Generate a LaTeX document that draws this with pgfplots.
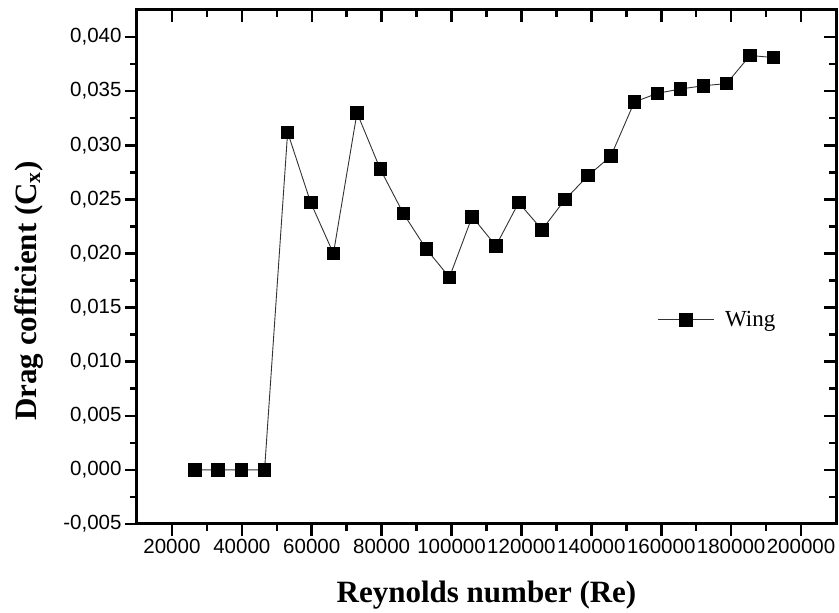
\documentclass[border=0pt]{standalone}
\usepackage{pgfplots}
\pgfplotsset{compat=1.18}
\usepackage{fontspec}
\setmainfont{Liberation Serif}
\newfontfamily\arial{Liberation Sans}

\begin{document}
\begin{tikzpicture}
\useasboundingbox (-137pt,-89pt) rectangle (702pt,524pt);
\pgfplotsset{
  dragaxis/.style={
    scale only axis, width=699pt, height=514pt,
    xmin=10000, xmax=210000, ymin=-0.005, ymax=0.0425,
    xtick={20000,40000,...,200000}, minor x tick num=1,
    ytick={-0.005,0,0.005,0.01,0.015,0.02,0.025,0.03,0.035,0.04}, minor y tick num=1,
    scaled x ticks=false, scaled y ticks=false,
    axis line style={line width=3pt},
    every tick/.style={black, line width=2.5pt},
    major tick length=12pt, minor tick length=7pt,
  },
}
% ticks and labels on bottom/left, pointing outwards
\begin{axis}[
    dragaxis,
    tick align=outside, xtick pos=bottom, ytick pos=left,
    ticklabel style={font=\arial\fontsize{20.5}{20.5}\selectfont},
    /pgf/number format/assume math mode=true,
    xticklabel style={/pgf/number format/.cd, fixed, 1000 sep={}},
    yticklabel style={/pgf/number format/.cd, use comma, fixed, fixed zerofill, precision=3},
    xlabel={\bfseries Reynolds number (Re)},
    ylabel={\bfseries Drag cofficient (C\textsubscript{x})},
    label style={font=\fontsize{31}{31}\selectfont},
    xlabel style={at={(axis description cs:0.5,-0.138)}, anchor=center},
    ylabel style={at={(axis description cs:-0.1545,0.453)}, anchor=center},
    legend style={draw=none, fill=none, inner sep=0pt,
      at={(axis description cs:0.744,0.397)}, anchor=west,
      font=\fontsize{23}{23}\selectfont,
      /tikz/every odd column/.append style={column sep=9pt}},
    legend image code/.code={
      \draw[mark repeat=2, mark phase=2, #1] plot coordinates {(0pt,0pt) (28pt,0pt) (56pt,0pt)};
    },
]
\addplot[color=black!80, line width=0.9pt, mark=square*,
         mark size=6.3pt, mark options={solid, fill=black, draw=black}] coordinates {
    (26600,0) (33200,0) (39900,0) (46500,0)
    (53100,0.0312) (59700,0.0247) (66200,0.0200) (72950,0.0330)
    (79600,0.0278) (86200,0.0237) (92800,0.0204) (99400,0.0178)
    (105900,0.0234) (112700,0.0207) (119200,0.0247) (125900,0.0222)
    (132500,0.0250) (139100,0.0272) (145600,0.0290) (152300,0.0340)
    (158900,0.0348) (165500,0.0352) (172100,0.0355) (178700,0.0357)
    (185400,0.0383) (192100,0.0381)
};
\addlegendentry{Wing}
\end{axis}
% mirrored ticks on top/right, pointing inwards
\begin{axis}[
    dragaxis,
    tick align=inside, xtick pos=top, ytick pos=right,
    xticklabels={}, yticklabels={},
    axis line style={draw=none},
]
\end{axis}
\end{tikzpicture}
\end{document}
